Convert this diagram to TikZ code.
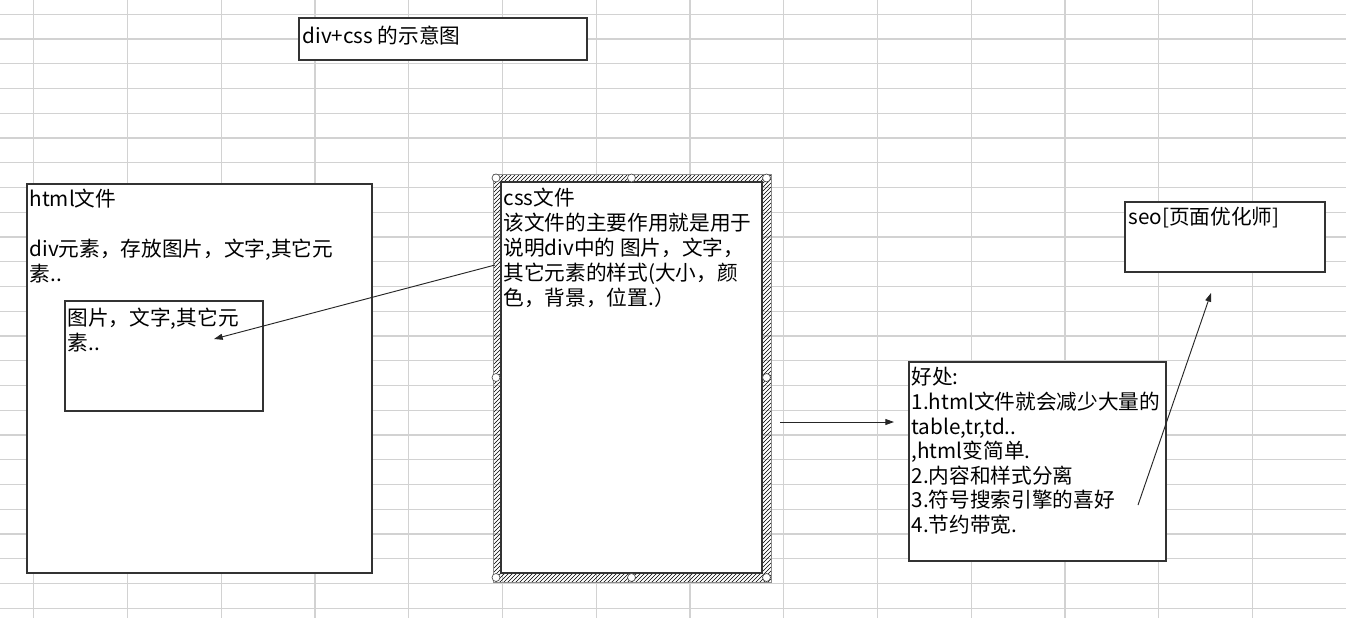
\documentclass[tikz,border=0pt]{standalone}
\usepackage{fontspec}
\setmainfont{Noto Sans CJK SC}
\usepackage{tikz}
\usetikzlibrary{arrows.meta,positioning,patterns}
\definecolor{gridgray}{HTML}{D2D2D2}
\definecolor{boxline}{HTML}{333333}

\begin{document}
\begin{tikzpicture}[x=0.75pt,y=-0.75pt,
    font=\fontsize{15.5pt}{18.75pt}\selectfont,
    gridline/.style={gridgray,line width=0.9pt},
    sheetbox/.style={draw=boxline,fill=white,line width=1pt,inner sep=0pt},
    boxtext/.style={anchor=north west,align=left,inner sep=0pt},
    handle/.style={draw=black!70,fill=white,line width=0.5pt},
    arr/.style={-{Triangle[length=6.5pt,width=4.5pt]},line width=0.7pt,black!85}]

  \useasboundingbox (0,0) rectangle (1346,618);
  \fill[white] (0,0) rectangle (1346,618);

  % sheet grid
  \foreach \gx in {0,...,13}
    \draw[gridline] (33.7+93.75*\gx,0) -- (33.7+93.75*\gx,618);
  \foreach \gy in {0,...,24}
    \draw[gridline] (0,14.3+24.75*\gy) -- (1346,14.3+24.75*\gy);

  % title box
  \node[sheetbox,minimum width=216pt,minimum height=31.5pt] (title) at (443,39) {};
  \node[boxtext] (titletxt) at ([shift={(4,8)}]title.north west) {div+css 的示意图};

  % html file box
  \node[sheetbox,minimum width=258.75pt,minimum height=291.75pt] (html) at (199.5,378.5) {};
  \node[boxtext] (htmltxt) at ([shift={(3,5)}]html.north west)
    {html文件\\[18.75pt]div元素，存放图片，文字,其它元\\素..};

  % inner div box
  \node[sheetbox,minimum width=148.5pt,minimum height=82.5pt] (img) at (164,356) {};
  \node[boxtext] (imgtxt) at ([shift={(3,7)}]img.north west) {图片，文字,其它元\\素..};

  % css file box (selected, hatched frame)
  \node[pattern=north east lines,draw=black!45,line width=0.4pt,inner sep=0pt,
        minimum width=208.5pt,minimum height=306pt] (cssframe) at (632,378) {};
  \node[sheetbox,minimum width=195.75pt,minimum height=293.25pt] (css) at (631.5,377.5) {};
  \foreach \hx/\hy in {496/178,631.5/178,766.5/178,496/377.5,766.5/377.5,
                       496/577.5,631.5/577.5,766.5/577.5}
    \filldraw[handle] (\hx,\hy) circle[radius=3pt];
  \node[boxtext] (csstxt) at ([shift={(3,6)}]css.north west)
    {css文件\\该文件的主要作用就是用于\\说明div中的 图片，文字，\\其它元素的样式(大小，颜\\色，背景，位置.）};

  % benefits box
  \node[sheetbox,minimum width=192.75pt,minimum height=149.25pt] (benefit) at (1037.5,461.5) {};
  \node[boxtext,font=\fontsize{15.5pt}{18.4pt}\selectfont] (benefittxt)
    at ([shift={(3,6)}]benefit.north west)
    {好处:\\1.html文件就会减少大量的\\table,tr,td..\\,html变简单.\\2.内容和样式分离\\3.符号搜索引擎的喜好\\4.节约带宽.};

  % seo box
  \node[sheetbox,minimum width=150pt,minimum height=52.5pt] (seo) at (1225,237) {};
  \node[boxtext] (seotxt) at ([shift={(4,6)}]seo.north west) {seo[页面优化师]};

  % arrows
  \coordinate (cssleft) at (495,265);
  \coordinate (imgpoint) at (214,339);
  \draw[arr] (cssleft) -- (imgpoint);
  \coordinate (cssright) at (780,422);
  \coordinate (benefitin) at (894,422);
  \draw[arr] (cssright) -- (benefitin);
  \coordinate (benefitout) at (1138,505);
  \coordinate (seopoint) at (1211,293);
  \draw[arr] (benefitout) -- (seopoint);

\end{tikzpicture}
\end{document}
